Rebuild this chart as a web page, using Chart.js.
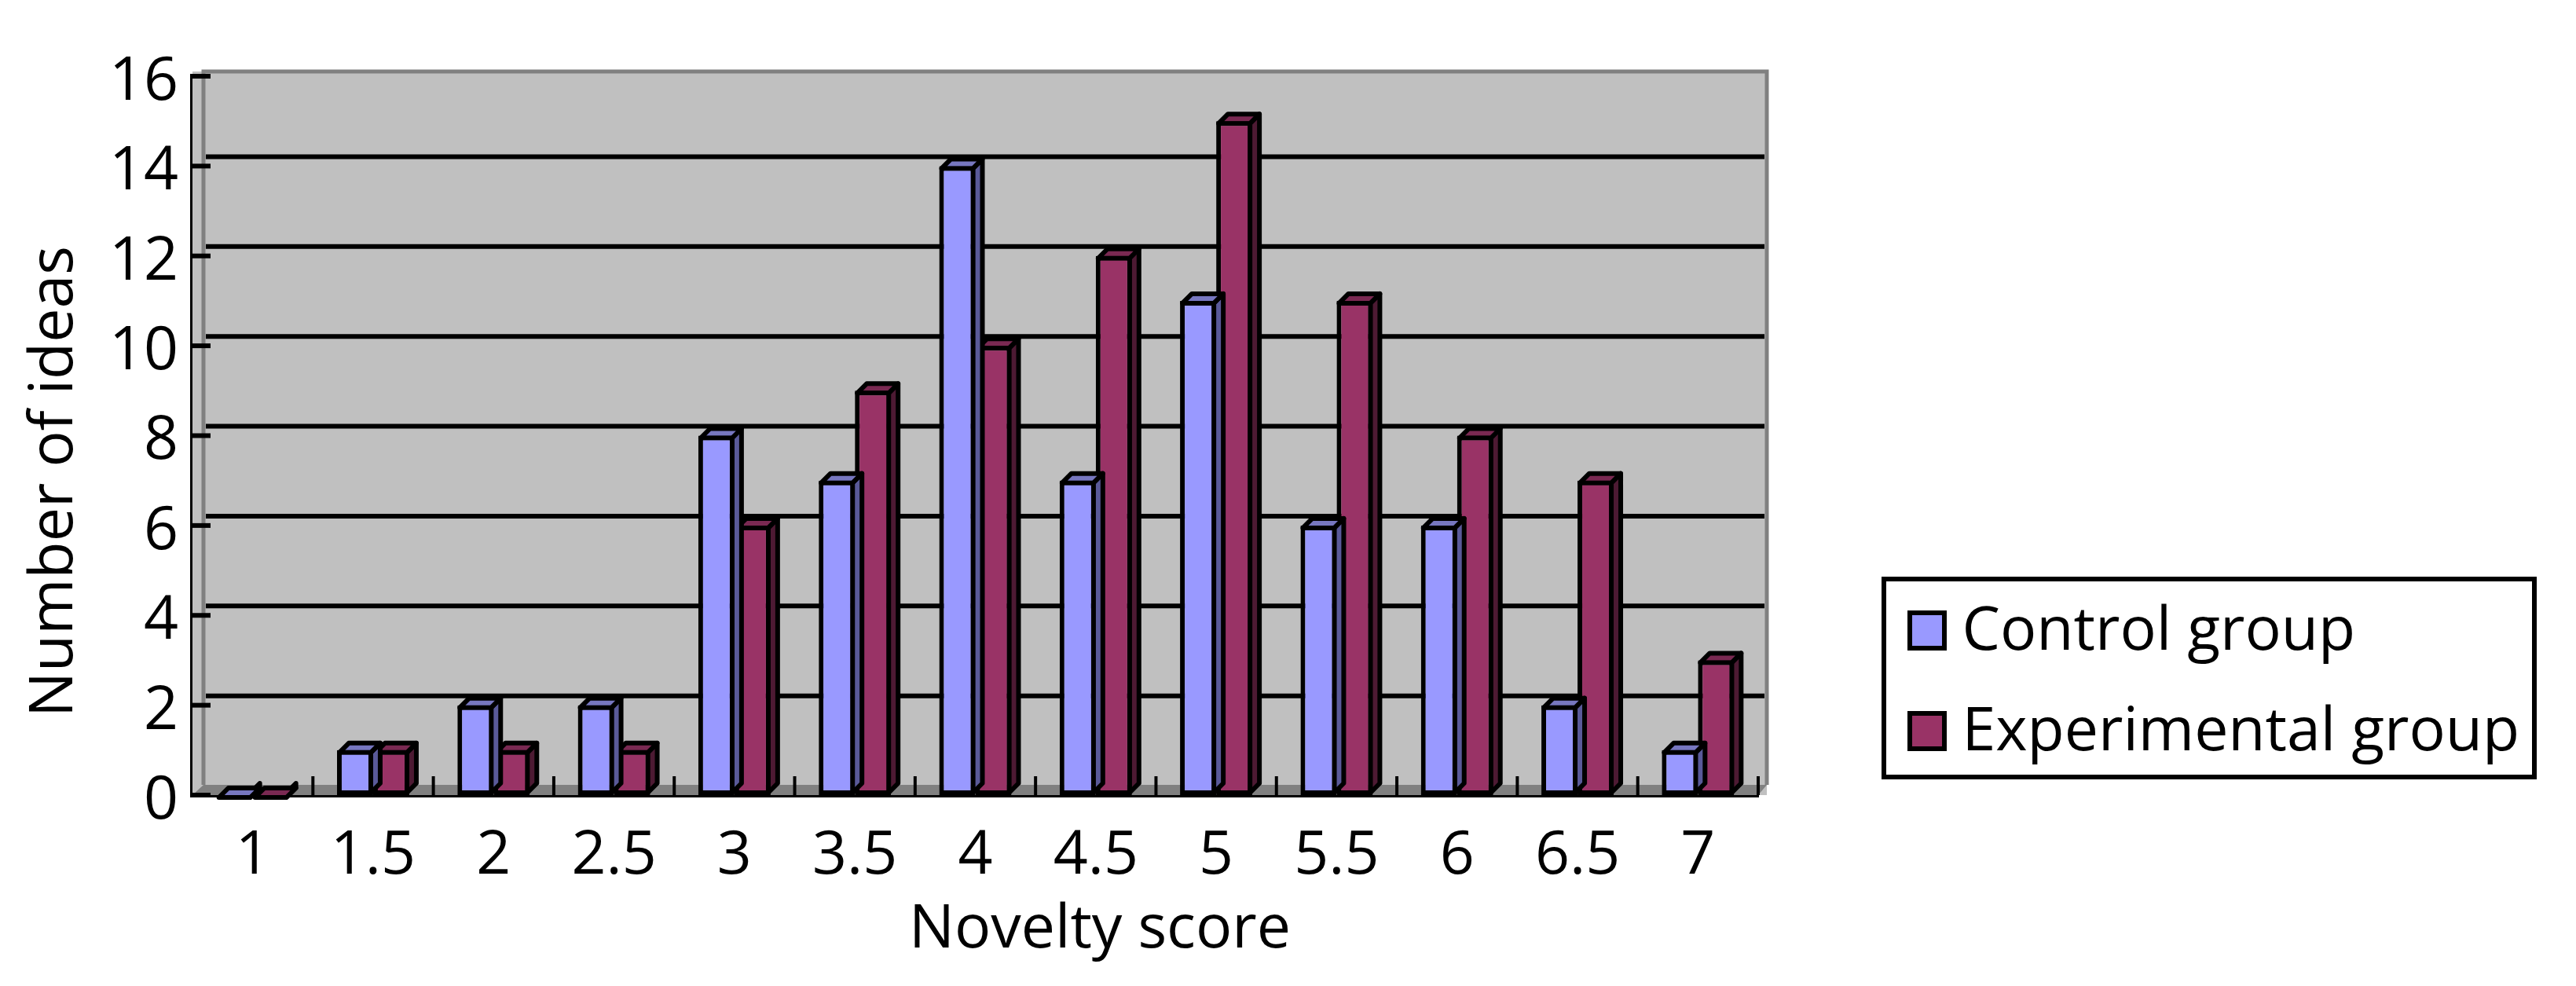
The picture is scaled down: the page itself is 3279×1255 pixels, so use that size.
<!DOCTYPE html>
<html>
<head>
<meta charset="utf-8">
<title>Novelty score</title>
<script src="https://cdn.jsdelivr.net/npm/chart.js@4/dist/chart.umd.js"></script>
<style>
    html, body { margin: 0; padding: 0; background: #ffffff; }
    canvas { display: block; }
</style>
</head>
<body>
<canvas id="mainChart" width="3279" height="1255"></canvas>
<script>
const categories = ['1', '1.5', '2', '2.5', '3', '3.5', '4', '4.5', '5', '5.5', '6', '6.5', '7'];
const controlGroup = [0, 1, 2, 2, 8, 7, 14, 7, 11, 6, 6, 2, 1];
const experimentalGroup = [0, 1, 1, 1, 6, 9, 10, 12, 15, 11, 8, 7, 3];
const yMax = 16;
const yStep = 2;
const xTitle = 'Novelty score';
const yTitle = 'Number of ideas';

const FONT = '"Open Sans", sans-serif';
const FONT_SIZE = 77;
const BAR_LINE = 6;

const barColors = ['#9999ff', '#993366'];

// side and top shades of the fake 3D bars, one per dataset
const shades = [
    { side: '#5a5a99', top: '#7777c0' },
    { side: '#4d1a33', top: '#7a2952' }
];

function polygon(ctx, pts, fill) {
    ctx.beginPath();
    pts.forEach((p, i) => i ? ctx.lineTo(p[0], p[1]) : ctx.moveTo(p[0], p[1]));
    ctx.closePath();
    ctx.fillStyle = fill;
    ctx.fill();
    ctx.stroke();
}

const depthPlugin = {
    id: 'depth',
    afterLayout(chart) {
        // the legend sits outside the plot, in the empty space on the right
        const legend = chart.legend;
        legend.left = 2380;
        legend.right = 3279;
        legend.top = 716;
        legend.bottom = 1100;

        // y labels sit a little under their ticks in the original
        chart.scales.y.getLabelItems(chart.chartArea).forEach(item => {
            item.options.translation[1] += 8;
        });
    },
    beforeDatasetsDraw(chart) {
        // back wall, floor, gridlines and the inward tick marks
        const ctx = chart.ctx;
        const area = chart.chartArea;
        const y = chart.scales.y;
        const x = chart.scales.x;
        const wallLeft = area.left + 14;
        const wallRight = area.right + 11;
        const wallTop = area.top - 6;
        const wallBottom = area.bottom - 13;

        ctx.save();
        ctx.fillStyle = '#c0c0c0';
        ctx.fillRect(area.left, wallTop, wallRight - area.left, area.bottom - wallTop);

        ctx.fillStyle = '#808080';
        ctx.beginPath();
        ctx.moveTo(area.left, area.bottom);
        ctx.lineTo(wallLeft, wallBottom);
        ctx.lineTo(wallRight, wallBottom);
        ctx.lineTo(area.right, area.bottom);
        ctx.closePath();
        ctx.fill();

        ctx.strokeStyle = '#808080';
        ctx.lineWidth = 5;
        ctx.beginPath();
        ctx.moveTo(wallLeft, wallBottom);
        ctx.lineTo(wallLeft, wallTop);
        ctx.lineTo(wallRight, wallTop);
        ctx.lineTo(wallRight, wallBottom);
        ctx.stroke();

        ctx.strokeStyle = '#000000';
        ctx.lineWidth = 6;
        y.ticks.forEach(t => {
            const py = y.getPixelForValue(t.value);
            if (t.value > 0 && t.value < yMax) {
                ctx.beginPath();
                ctx.moveTo(wallLeft + 3, py - 12);
                ctx.lineTo(wallRight - 3, py - 12);
                ctx.stroke();
            }
            ctx.beginPath();
            ctx.moveTo(area.left, py);
            ctx.lineTo(area.left + 23, py);
            ctx.stroke();
        });

        ctx.lineWidth = 4;
        const half = (x.getPixelForValue(1) - x.getPixelForValue(0)) / 2;
        categories.forEach((c, i) => {
            const px = x.getPixelForValue(i) + half;
            ctx.beginPath();
            ctx.moveTo(px, area.bottom);
            ctx.lineTo(px, area.bottom - 24);
            ctx.stroke();
        });
        ctx.restore();
    },
    beforeDatasetDraw(chart, args) {
        // top and side faces, the front face is the normal bar
        const ctx = chart.ctx;
        const dx = 12, dy = 12, inset = BAR_LINE / 2;
        const shade = shades[args.index];
        ctx.save();
        ctx.strokeStyle = '#000000';
        ctx.lineWidth = BAR_LINE;
        ctx.lineJoin = 'round';
        args.meta.data.forEach(bar => {
            const left = bar.x - bar.width / 2 + inset;
            const right = bar.x + bar.width / 2 - inset;
            const top = bar.y + inset;
            const bottom = bar.base - inset;
            polygon(ctx, [[right, top], [right + dx, top - dy], [right + dx, bottom - dy], [right, bottom]], shade.side);
            polygon(ctx, [[left, top], [left + dx, top - dy], [right + dx, top - dy], [right, top]], shade.top);
        });
        ctx.restore();
    },
    afterDraw(chart) {
        const ctx = chart.ctx;
        ctx.save();
        // legend frame
        ctx.strokeStyle = '#000000';
        ctx.lineWidth = 6;
        ctx.strokeRect(2398, 737, 828, 252);

        // the legend's own box is too narrow to keep the text close, so cover it with the wider swatch
        ctx.lineWidth = 6;
        ctx.fillStyle = barColors[0];
        ctx.fillRect(2431, 780, 44, 45);
        ctx.strokeRect(2431, 780, 44, 45);
        ctx.fillStyle = barColors[1];
        ctx.fillRect(2431, 908, 44, 45);
        ctx.strokeRect(2431, 908, 44, 45);

        // axis titles are off centre in the original, so they go in by hand
        ctx.fillStyle = '#000000';
        ctx.font = FONT_SIZE + 'px ' + FONT;
        ctx.textAlign = 'center';
        ctx.textBaseline = 'middle';
        ctx.fillText(xTitle, 1400, 1184);
        ctx.translate(70, 613);
        ctx.rotate(-Math.PI / 2);
        ctx.fillText(yTitle, 0, 0);
        ctx.restore();
    }
};

new Chart(document.getElementById('mainChart').getContext('2d'), {
    type: 'bar',
    data: {
        labels: categories,
        datasets: [
            {
                label: 'Control group',
                data: controlGroup,
                backgroundColor: barColors[0],
                borderColor: '#000000',
                borderWidth: BAR_LINE,
                borderSkipped: false
            },
            {
                label: 'Experimental group',
                data: experimentalGroup,
                backgroundColor: barColors[1],
                borderColor: '#000000',
                borderWidth: BAR_LINE,
                borderSkipped: false
            }
        ]
    },
    options: {
        responsive: false,
        animation: false,
        events: [],
        barPercentage: 1,
        categoryPercentage: 0.6,
        layout: { padding: { top: 97, right: 1041, left: 0, bottom: 0 } },
        scales: {
            x: {
                grid: { display: false, drawTicks: false },
                border: { color: '#000000', width: 6 },
                ticks: {
                    color: '#000000',
                    padding: 32,
                    maxRotation: 0,
                    autoSkip: false,
                    font: { family: FONT, size: FONT_SIZE }
                },
                afterFit(scale) { scale.height = 243; }
            },
            y: {
                min: 0,
                max: yMax,
                grid: { display: false, drawTicks: false },
                border: { color: '#000000', width: 6 },
                ticks: {
                    stepSize: yStep,
                    color: '#000000',
                    padding: 18,
                    font: { family: FONT, size: FONT_SIZE }
                },
                afterFit(scale) { scale.width = 245; }
            }
        },
        plugins: {
            tooltip: { enabled: false },
            legend: {
                display: true,
                position: 'chartArea',
                align: 'start',
                labels: {
                    color: '#000000',
                    boxWidth: 28,
                    boxHeight: 28,
                    padding: 51,
                    font: { family: FONT, size: FONT_SIZE }
                }
            }
        }
    },
    plugins: [depthPlugin]
});
</script>
</body>
</html>
